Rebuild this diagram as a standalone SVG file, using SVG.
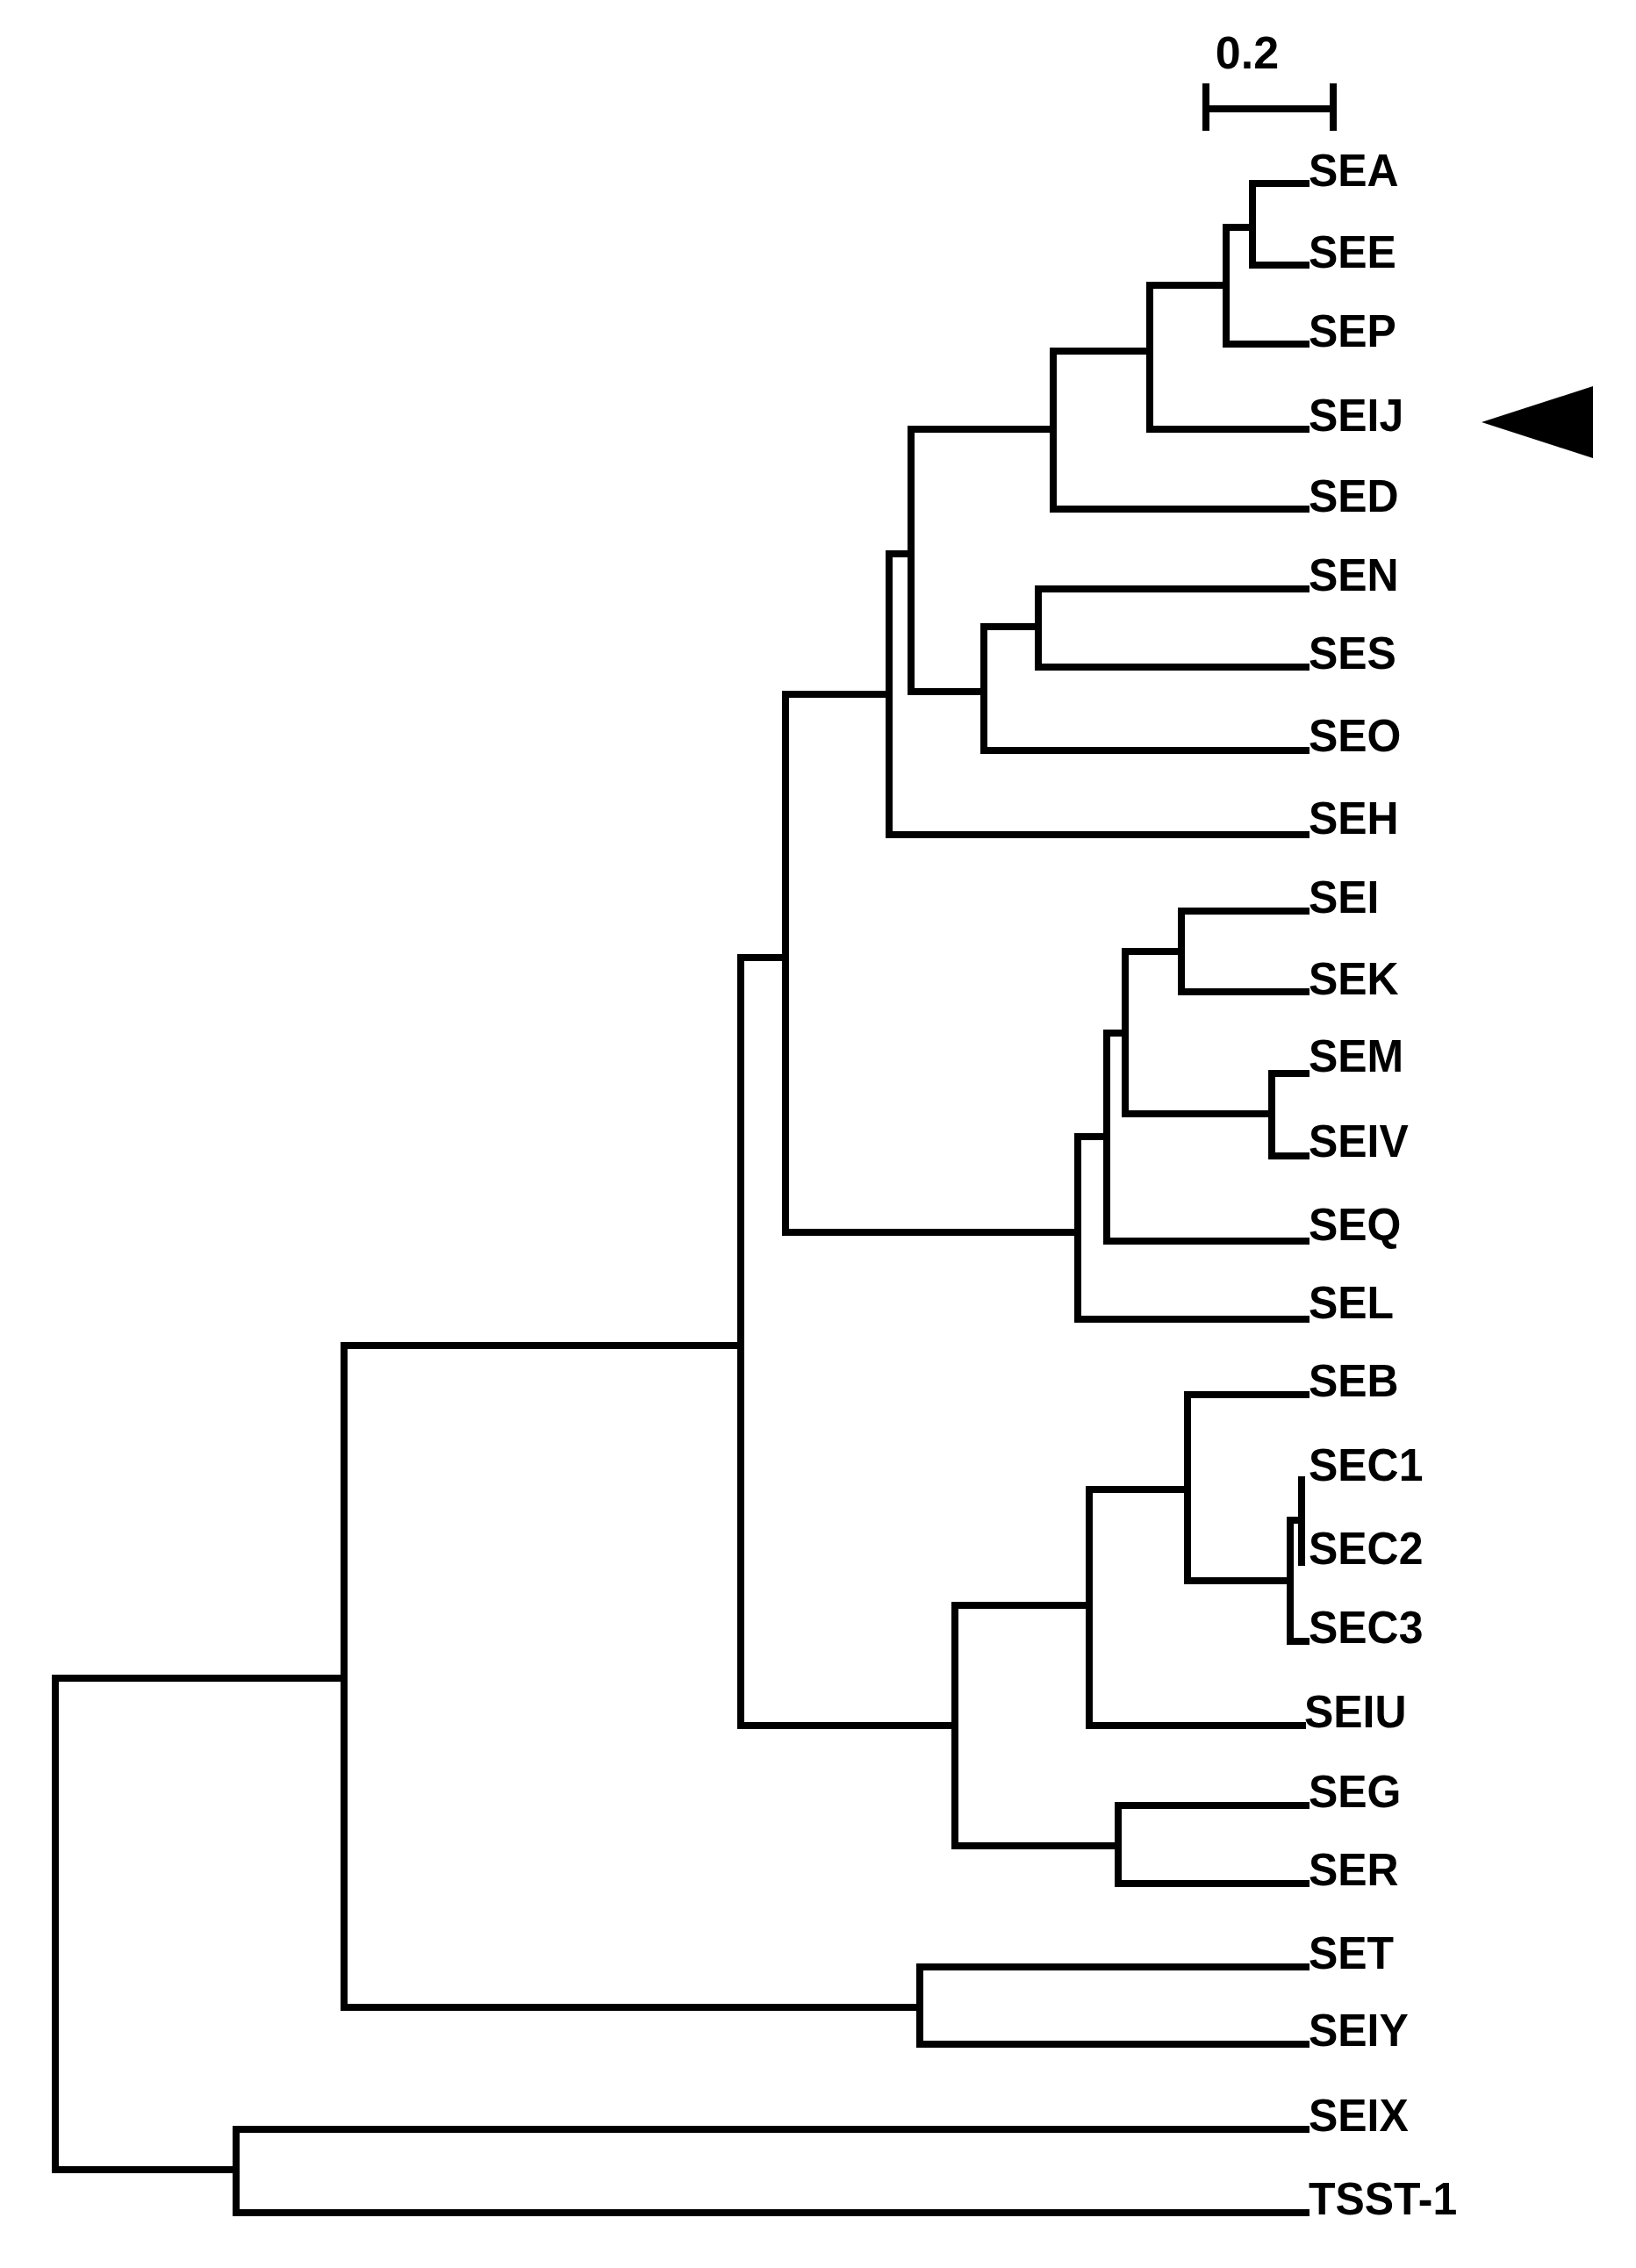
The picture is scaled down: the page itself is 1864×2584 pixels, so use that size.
<svg xmlns="http://www.w3.org/2000/svg" width="1864" height="2584" viewBox="0 0 1864 2584">
<style>
.br{fill:none;stroke:#000;stroke-width:8;stroke-linecap:square;stroke-linejoin:miter}
.lb{font-family:"Liberation Sans",Arial,sans-serif;font-weight:bold;font-size:52px;fill:#000}
</style>
<rect x="0" y="0" width="1864" height="2584" fill="#fff"/>
<g id="scale-bar">
<path class="br" d="M1374 124 H1519 M1374 99 V145 M1519 99 V145"/>
<text class="lb" x="1421" y="78" text-anchor="middle">0.2</text>
</g>
<g id="connectors">
<path class="br" d="M63 1912 V2472"/>
<path class="br" d="M63 1912 H392"/>
<path class="br" d="M63 2472 H269"/>
<path class="br" d="M269 2472 V2426 H1488"/>
<path class="br" d="M269 2472 V2521 H1488"/>
<path class="br" d="M392 1912 V1533 H844"/>
<path class="br" d="M392 1912 V2287 H1048"/>
<path class="br" d="M1048 2287 V2241 H1488"/>
<path class="br" d="M1048 2287 V2329 H1488"/>
<path class="br" d="M844 1533 V1091 H895"/>
<path class="br" d="M844 1533 V1966 H1088"/>
<path class="br" d="M895 1091 V791 H1013"/>
<path class="br" d="M895 1091 V1404 H1228"/>
<path class="br" d="M1013 791 V631 H1038"/>
<path class="br" d="M1013 791 V951 H1488"/>
<path class="br" d="M1038 631 V489 H1200"/>
<path class="br" d="M1038 631 V788 H1121"/>
<path class="br" d="M1200 489 V400 H1310"/>
<path class="br" d="M1200 489 V580 H1488"/>
<path class="br" d="M1310 400 V325 H1397"/>
<path class="br" d="M1310 400 V489 H1488"/>
<path class="br" d="M1397 325 V259 H1427"/>
<path class="br" d="M1397 325 V392 H1488"/>
<path class="br" d="M1427 259 V209 H1488"/>
<path class="br" d="M1427 259 V302 H1488"/>
<path class="br" d="M1121 788 V714 H1183"/>
<path class="br" d="M1121 788 V855 H1488"/>
<path class="br" d="M1183 714 V671 H1488"/>
<path class="br" d="M1183 714 V760 H1488"/>
<path class="br" d="M1228 1404 V1295 H1261"/>
<path class="br" d="M1228 1404 V1503 H1488"/>
<path class="br" d="M1261 1295 V1177 H1282"/>
<path class="br" d="M1261 1295 V1414 H1488"/>
<path class="br" d="M1282 1177 V1084 H1346"/>
<path class="br" d="M1282 1177 V1269 H1449"/>
<path class="br" d="M1346 1084 V1038 H1488"/>
<path class="br" d="M1346 1084 V1130 H1488"/>
<path class="br" d="M1449 1269 V1223 H1488"/>
<path class="br" d="M1449 1269 V1317 H1488"/>
<path class="br" d="M1088 1966 V1829 H1241"/>
<path class="br" d="M1088 1966 V2103 H1274"/>
<path class="br" d="M1274 2103 V2057 H1488"/>
<path class="br" d="M1274 2103 V2146 H1488"/>
<path class="br" d="M1241 1829 V1697 H1353"/>
<path class="br" d="M1241 1829 V1966 H1484"/>
<path class="br" d="M1353 1697 V1589 H1488"/>
<path class="br" d="M1353 1697 V1801 H1470"/>
<path class="br" d="M1470 1801 V1732 H1483"/>
<path class="br" d="M1470 1801 V1870 H1488"/>
<path class="br" d="M1483 1732 V1686"/>
<path class="br" d="M1483 1732 V1780"/>
</g>
<g id="SEA" transform="translate(1491 0) scale(0.96 1)"><text class="lb" x="0" y="212">SEA</text></g>
<g id="SEE" transform="translate(1491 0) scale(0.96 1)"><text class="lb" x="0" y="305">SEE</text></g>
<g id="SEP" transform="translate(1491 0) scale(0.96 1)"><text class="lb" x="0" y="395">SEP</text></g>
<g id="SEIJ" transform="translate(1491 0) scale(0.96 1)"><text class="lb" x="0" y="491">SEIJ</text></g>
<g id="SED" transform="translate(1491 0) scale(0.96 1)"><text class="lb" x="0" y="583">SED</text></g>
<g id="SEN" transform="translate(1491 0) scale(0.96 1)"><text class="lb" x="0" y="673">SEN</text></g>
<g id="SES" transform="translate(1491 0) scale(0.96 1)"><text class="lb" x="0" y="762">SES</text></g>
<g id="SEO" transform="translate(1491 0) scale(0.96 1)"><text class="lb" x="0" y="856">SEO</text></g>
<g id="SEH" transform="translate(1491 0) scale(0.96 1)"><text class="lb" x="0" y="950">SEH</text></g>
<g id="SEI" transform="translate(1491 0) scale(0.96 1)"><text class="lb" x="0" y="1040">SEI</text></g>
<g id="SEK" transform="translate(1491 0) scale(0.96 1)"><text class="lb" x="0" y="1133">SEK</text></g>
<g id="SEM" transform="translate(1491 0) scale(0.96 1)"><text class="lb" x="0" y="1221">SEM</text></g>
<g id="SEIV" transform="translate(1491 0) scale(0.96 1)"><text class="lb" x="0" y="1318">SEIV</text></g>
<g id="SEQ" transform="translate(1491 0) scale(0.96 1)"><text class="lb" x="0" y="1413">SEQ</text></g>
<g id="SEL" transform="translate(1491 0) scale(0.96 1)"><text class="lb" x="0" y="1502">SEL</text></g>
<g id="SEB" transform="translate(1491 0) scale(0.96 1)"><text class="lb" x="0" y="1591">SEB</text></g>
<g id="SEC1" transform="translate(1491 0) scale(0.96 1)"><text class="lb" x="0" y="1687">SEC1</text></g>
<g id="SEC2" transform="translate(1491 0) scale(0.96 1)"><text class="lb" x="0" y="1782">SEC2</text></g>
<g id="SEC3" transform="translate(1491 0) scale(0.96 1)"><text class="lb" x="0" y="1872">SEC3</text></g>
<g id="SEIU" transform="translate(1486 0) scale(0.96 1)"><text class="lb" x="0" y="1968">SEIU</text></g>
<g id="SEG" transform="translate(1491 0) scale(0.96 1)"><text class="lb" x="0" y="2059">SEG</text></g>
<g id="SER" transform="translate(1491 0) scale(0.96 1)"><text class="lb" x="0" y="2148">SER</text></g>
<g id="SET" transform="translate(1491 0) scale(0.96 1)"><text class="lb" x="0" y="2243">SET</text></g>
<g id="SEIY" transform="translate(1491 0) scale(0.96 1)"><text class="lb" x="0" y="2331">SEIY</text></g>
<g id="SEIX" transform="translate(1491 0) scale(0.96 1)"><text class="lb" x="0" y="2428">SEIX</text></g>
<g id="TSST-1" transform="translate(1491 0) scale(0.96 1)"><text class="lb" x="0" y="2523">TSST-1</text></g>
<g id="marker-arrow"><polygon points="1688,481 1815,440 1815,522" fill="#000"/></g>
</svg>
